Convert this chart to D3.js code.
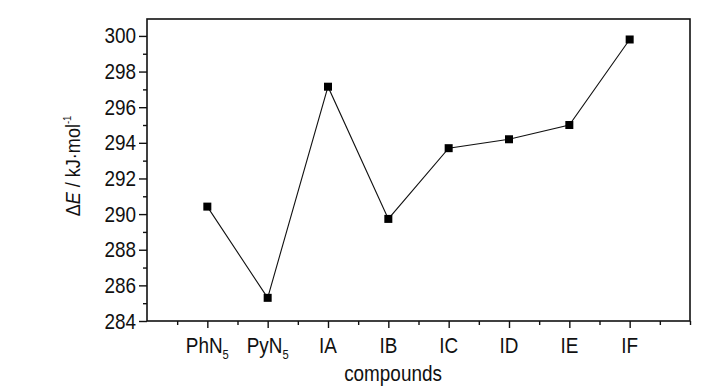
<!DOCTYPE html>
<html>
<head>
<meta charset="utf-8">
<script src="https://cdn.jsdelivr.net/npm/d3@7"></script>
<style>
	body { margin: 0; background: #fff; }
	svg { display: block; }
	text { font-family: "Liberation Sans", Arial, sans-serif; fill: #111; }
</style>
</head>
<body>
<svg id="chart" width="728" height="390"></svg>
<script>
// compounds on the x axis (name + subscript)
var compounds = [
	{ base: "PhN", sub: "5" },
	{ base: "PyN", sub: "5" },
	{ base: "IA", sub: "" },
	{ base: "IB", sub: "" },
	{ base: "IC", sub: "" },
	{ base: "ID", sub: "" },
	{ base: "IE", sub: "" },
	{ base: "IF", sub: "" }
];
var energies = [290.42, 285.3, 297.15, 289.73, 293.7, 294.2, 295.0, 299.8];
var yTicks = [284, 286, 288, 290, 292, 294, 296, 298, 300];
var yMinor = [285, 287, 289, 291, 293, 295, 297, 299];

var narrow = 0.86; // fake a condensed face (no Arial Narrow here)

var svg = d3.select("#chart");

var margin = { left: 147, right: 38, top: 19, bottom: 69 };
var width = 728 - margin.left - margin.right,
	height = 390 - margin.top - margin.bottom;

var x = d3.scaleLinear().domain([0, compounds.length + 1]).range([0, width]);
var y = d3.scaleLinear().domain([284, 300.95]).range([height, 0]);

var g = svg.append("g").attr("transform", "translate(" + margin.left + "," + margin.top + ")");

// frame
g.append("rect")
	.attr("x", 0).attr("y", 0)
	.attr("width", width).attr("height", height)
	.attr("fill", "none")
	.attr("stroke", "#111")
	.attr("stroke-width", 1.6);

// y axis, major + minor ticks
var yAxis = g.append("g")
	.call(d3.axisLeft(y).tickValues(yTicks).tickSize(8).tickPadding(3).tickFormat(d3.format("d")));
yAxis.select(".domain").remove();
yAxis.selectAll("line").attr("stroke", "#111").attr("stroke-width", 1.4);
yAxis.selectAll("text")
	.attr("font-size", 22)
	.attr("fill", "#111")
	.attr("x", -11 / narrow)
	.attr("transform", "scale(" + narrow + ",1)");

var yAxisMinor = g.append("g")
	.call(d3.axisLeft(y).tickValues(yMinor).tickSize(4).tickFormat(""));
yAxisMinor.select(".domain").remove();
yAxisMinor.selectAll("line").attr("stroke", "#111").attr("stroke-width", 1.4);

// x axis ticks
var xMajor = d3.range(1, compounds.length + 1);
var xMinor = d3.range(0.5, compounds.length + 1, 1);

var xAxis = g.append("g")
	.attr("transform", "translate(0," + height + ")")
	.call(d3.axisBottom(x).tickValues(xMajor).tickSize(7).tickFormat(""));
xAxis.select(".domain").remove();
xAxis.selectAll("line").attr("stroke", "#111").attr("stroke-width", 1.4);

var xAxisMinor = g.append("g")
	.attr("transform", "translate(0," + height + ")")
	.call(d3.axisBottom(x).tickValues(xMinor.concat([compounds.length + 1])).tickSize(4).tickFormat(""));
xAxisMinor.select(".domain").remove();
xAxisMinor.selectAll("line").attr("stroke", "#111").attr("stroke-width", 1.4);

// x tick labels with subscripts
var labels = g.selectAll(".xlabel")
	.data(compounds)
	.enter()
	.append("text")
	.attr("class", "xlabel")
	.attr("transform", function(d, i) {
		return "translate(" + x(i + 1) + "," + (height + 32) + ") scale(" + narrow + ",1)";
	})
	.attr("text-anchor", "middle")
	.attr("font-size", 22);

labels.append("tspan").text(function(d) { return d.base; });
labels.append("tspan")
	.attr("font-size", 13)
	.attr("dy", 6)
	.text(function(d) { return d.sub; });

// axis titles
svg.append("text")
	.attr("transform", "translate(393,381) scale(" + narrow + ",1)")
	.attr("text-anchor", "middle")
	.attr("font-size", 22)
	.text("compounds");

var ylab = svg.append("text")
	.attr("transform", "translate(80,166) rotate(-90) scale(" + narrow + ",1)")
	.attr("text-anchor", "middle")
	.attr("font-size", 21);
ylab.append("tspan").text("Δ");
ylab.append("tspan").attr("font-style", "italic").text("E");
ylab.append("tspan").text(" / kJ·mol");
ylab.append("tspan").attr("font-size", 11).attr("dy", -9).text("-1");

// line + markers
var line = d3.line()
	.x(function(d, i) { return x(i + 1); })
	.y(function(d) { return y(d); });

g.append("path")
	.datum(energies)
	.attr("d", line)
	.attr("fill", "none")
	.attr("stroke", "#111")
	.attr("stroke-width", 1.1);

g.selectAll(".pt")
	.data(energies)
	.enter()
	.append("rect")
	.attr("class", "pt")
	.attr("x", function(d, i) { return x(i + 1) - 4; })
	.attr("y", function(d) { return y(d) - 4; })
	.attr("width", 8)
	.attr("height", 8)
	.attr("fill", "#000");
</script>
</body>
</html>
